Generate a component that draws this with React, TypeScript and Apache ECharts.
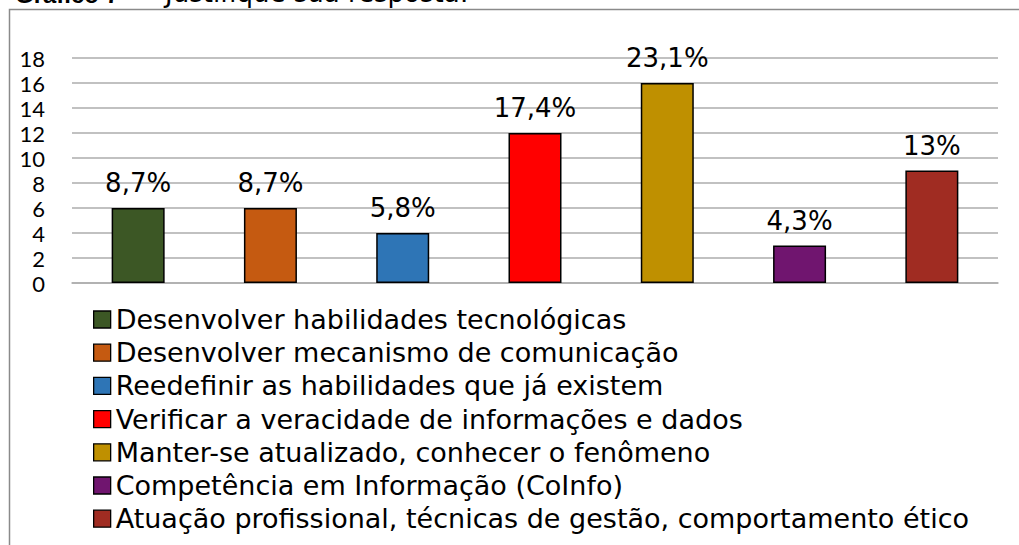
import React, { useEffect, useRef } from "react";
import * as echarts from "echarts";

const categories = [
  "Desenvolver habilidades tecnológicas",
  "Desenvolver mecanismo de comunicação",
  "Reedefinir as habilidades que já existem",
  "Verificar a veracidade de informações e dados",
  "Manter-se atualizado, conhecer o fenômeno",
  "Competência em Informação (CoInfo)",
  "Atuação profissional, técnicas de gestão, comportamento ético",
];
const counts = [6, 6, 4, 12, 16, 3, 9];
const pctLabels = ["8,7%", "8,7%", "5,8%", "17,4%", "23,1%", "4,3%", "13%"];
const barColors = ["#3C5725", "#C55A11", "#2E75B6", "#FF0000", "#BF9000", "#70156F", "#A02C22"];
const yMin = 0;
const yMax = 18;
const yInterval = 2;
const titleBold = "Gráfico 7 –";
const titleRest = "Justifique sua resposta:";

export default function App() {
  const ref = useRef<HTMLDivElement>(null);
  useEffect(() => {
    if (!ref.current) return;
    const chart = echarts.init(ref.current, null, { renderer: "svg" });
    const series = categories.map((name, i) => ({
      name,
      type: "bar",
      barWidth: 53,
      barGap: "-100%",
      data: counts.map((v, j) => (j === i ? v : "-")),
      itemStyle: { color: barColors[i], borderColor: "#000", borderWidth: 1.5 },
      label: {
        show: true,
        position: "top",
        distance: 12,
        formatter: () => pctLabels[i],
        color: "#000",
        fontFamily: "DejaVu Sans",
        fontSize: 26,
      },
    }));
    chart.setOption({
      animation: false,
      backgroundColor: "#fff",
      grid: { left: 72, right: 21, top: 58, bottom: 262, containLabel: false },
      xAxis: {
        type: "category",
        data: categories,
        axisLabel: { show: false },
        axisTick: { show: false },
        axisLine: { lineStyle: { color: "#ADADAD", width: 1.5 } },
      },
      yAxis: {
        type: "value",
        min: yMin,
        max: yMax,
        interval: yInterval,
        axisLine: { show: false },
        axisTick: { show: false },
        axisLabel: {
          color: "#000",
          fontFamily: "Lato",
          fontSize: 22,
          margin: 27,
        },
        splitLine: { lineStyle: { color: "#ADADAD", width: 1.5 } },
      },
      legend: {
        orient: "vertical",
        left: 93,
        top: 306,
        padding: 0,
        itemWidth: 17,
        itemHeight: 17,
        itemGap: 6.2,
        icon: "rect",
        data: categories,
        textStyle: {
          color: "#000",
          fontFamily: "DejaVu Sans",
          fontSize: 27,
          lineHeight: 26,
        },
        itemStyle: { borderColor: "#000", borderWidth: 1.3 },
      },
      graphic: [
        {
          type: "rect",
          shape: { x: 9.5, y: 9.5, width: 1200, height: 700 },
          style: { fill: "none", stroke: "#8A8A8A", lineWidth: 1.5 },
          silent: true,
        },
        {
          type: "text",
          x: 15,
          y: 6,
          style: {
            text: titleBold,
            fontFamily: "Liberation Sans",
            fontWeight: "bold",
            fontSize: 24,
            fill: "#000",
            verticalAlign: "bottom",
          },
        },
        {
          type: "text",
          x: 165,
          y: 6,
          style: {
            text: titleRest,
            fontFamily: "DejaVu Sans",
            fontSize: 26,
            fill: "#000",
            verticalAlign: "bottom",
          },
        },
      ],
      series,
    });
    return () => chart.dispose();
  }, []);
  return (
    <div
      ref={ref}
      style={{ position: "fixed", left: 0, top: 0, width: 1019, height: 545 }}
    />
  );
}
